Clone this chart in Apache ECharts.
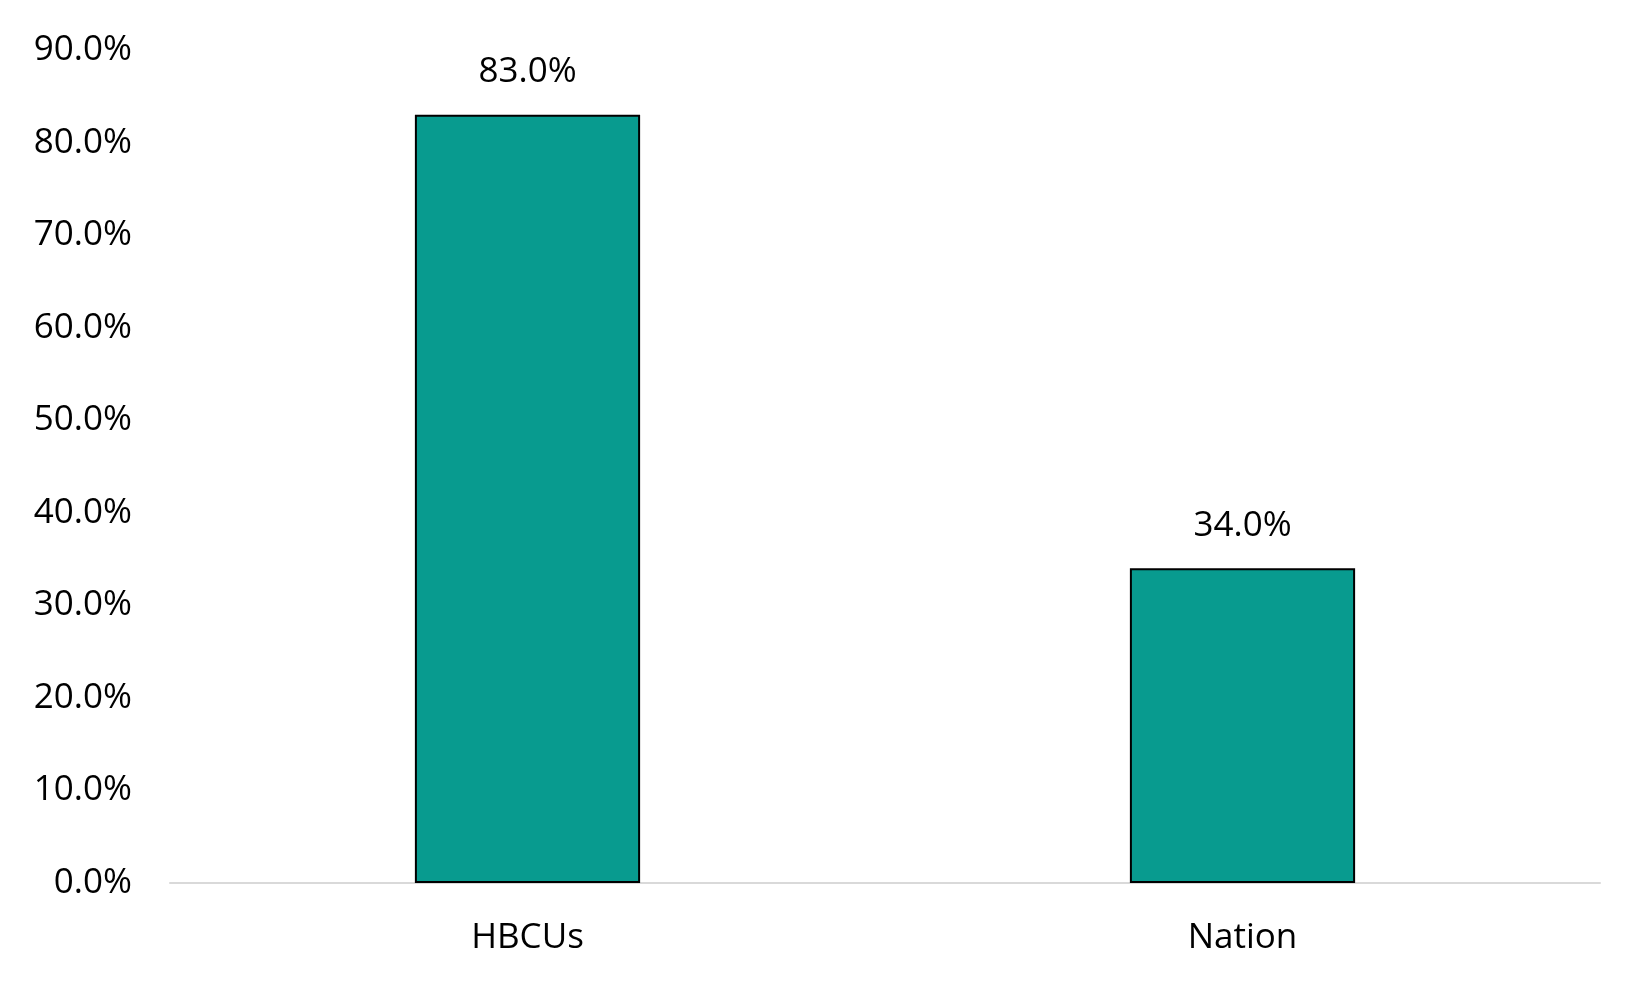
<!DOCTYPE html>
<html>
<head>
<meta charset="utf-8">
<script src="https://cdn.jsdelivr.net/npm/echarts@6/dist/echarts.min.js"></script>
<style>
html,body{margin:0;padding:0;background:#fff;}
#chart{width:1650px;height:990px;}
</style>
</head>
<body>
<div id="chart"></div>
<script>
const categories = ["HBCUs", "Nation"];
const values = [83.0, 34.0];
const yTicks = [0, 10, 20, 30, 40, 50, 60, 70, 80, 90];

const FONT = "Open Sans";
const chart = echarts.init(document.getElementById('chart'), null, {renderer: 'canvas'});
chart.setOption({
  backgroundColor: '#ffffff',
  animation: false,
  grid: {left: 170, right: 50, top: 50, bottom: 107, containLabel: false},
  xAxis: {
    type: 'category',
    data: categories,
    axisLine: {show: true, lineStyle: {color: '#d9d9d9', width: 2}},
    axisTick: {show: false},
    axisLabel: {color: '#000', fontFamily: FONT, fontSize: 35, margin: 38}
  },
  yAxis: {
    type: 'value',
    min: yTicks[0],
    max: yTicks[yTicks.length - 1],
    interval: 10,
    axisLine: {show: false},
    axisTick: {show: false},
    splitLine: {show: false},
    axisLabel: {
      color: '#000', fontFamily: FONT, fontSize: 35, margin: 38,
      formatter: v => v.toFixed(1) + '%'
    }
  },
  series: [{
    type: 'bar',
    data: values,
    barWidth: '31.5%',
    itemStyle: {color: '#089b8f', borderColor: '#000', borderWidth: 2},
    label: {
      show: true, position: 'top', distance: 25,
      color: '#000', fontFamily: FONT, fontSize: 35,
      formatter: p => p.value.toFixed(1) + '%'
    }
  }]
});
</script>
</body>
</html>
